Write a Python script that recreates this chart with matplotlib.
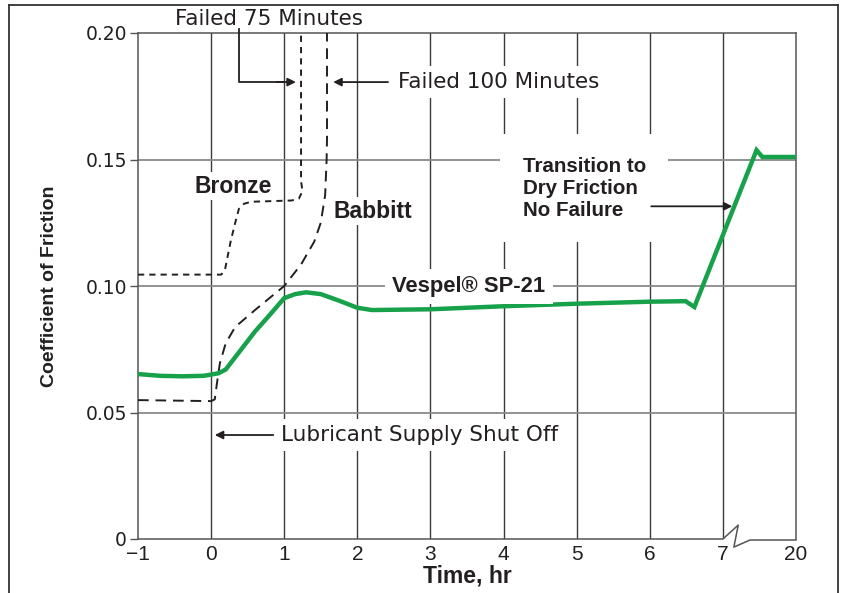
import numpy as np
import matplotlib.pyplot as plt
from matplotlib.lines import Line2D

# x positions: -1..7 are hours, the last slot (8) stands for 20 hr after the axis break
x_ticks = [-1, 0, 1, 2, 3, 4, 5, 6, 7, 8]
x_labels = ['\u22121', '0', '1', '2', '3', '4', '5', '6', '7', '20']
y_ticks = [0, 0.05, 0.10, 0.15, 0.20]
y_labels = ['0', '0.05', '0.10', '0.15', '0.20']

vespel_t = [-1, -0.7, -0.4, -0.1, 0.1, 0.2, 0.4, 0.6, 0.8, 1.0, 1.15, 1.3, 1.5, 1.75, 2.0, 2.2,
            3, 4, 5, 6, 6.49, 6.61, 7.46, 7.54, 8]
vespel_mu = [0.0652, 0.0645, 0.0643, 0.0645, 0.0655, 0.0670, 0.0745, 0.0820, 0.0885, 0.0952,
             0.0968, 0.0975, 0.0968, 0.0942, 0.0914, 0.0905, 0.0908, 0.0920, 0.0930, 0.0938,
             0.0940, 0.0917, 0.1537, 0.1510, 0.1510]

babbitt_t = [-1, 0, 0.05, 0.08, 0.12, 0.2, 0.33, 0.6, 1.0, 1.23, 1.41, 1.5, 1.56, 1.58, 1.585, 1.585]
babbitt_mu = [0.0549, 0.0545, 0.0552, 0.0616, 0.0695, 0.0774, 0.0838, 0.0905, 0.1000, 0.1085,
              0.1175, 0.1250, 0.1360, 0.1500, 0.1580, 0.2000]

bronze_t = [-1, 0.14, 0.19, 0.27, 0.33, 0.38, 0.45, 0.55, 1.1, 1.2, 1.25, 1.23, 1.23]
bronze_mu = [0.1045, 0.1045, 0.1065, 0.1180, 0.1250, 0.1305, 0.1325, 0.1333, 0.1338, 0.1345,
             0.1375, 0.1415, 0.2000]

green = '#17a14b'
ink = '#231f20'
lib = ['Liberation Sans', 'DejaVu Sans']

fig = plt.figure(figsize=(8.42, 5.93), dpi=100)
ax = fig.add_axes([138/842, 1-539/593, 658/842, 506/593])

ax.plot(bronze_t, bronze_mu, color=ink, lw=1.4, dashes=(3.2, 2.6), zorder=3)
ax.plot(babbitt_t, babbitt_mu, color=ink, lw=1.4, dashes=(5.5, 3.5), zorder=3)
ax.plot(vespel_t, vespel_mu, color=green, lw=3.2, zorder=4, solid_joinstyle='miter')

ax.set_xlim(-1, 8)
ax.set_ylim(0, 0.2)
ax.set_xticks(x_ticks)
ax.set_xticklabels(x_labels, family=lib, fontsize=15, color=ink)
ax.set_yticks(y_ticks)
ax.set_yticklabels(y_labels, family='DejaVu Sans', fontsize=13.5, color=ink)
ax.tick_params(axis='x', length=0, pad=4)
ax.tick_params(axis='y', length=6, width=1, color='#555', pad=2)

for xv in x_ticks[1:-1]:
    ax.axvline(xv, color='#3a3a3a', lw=1.0, zorder=1)
for yv in y_ticks[1:-1]:
    ax.axhline(yv, color='#8a8a8a', lw=1.3, zorder=1)

for s in ['left', 'top', 'right']:
    ax.spines[s].set_color('#555')
    ax.spines[s].set_linewidth(1.1)
ax.spines['bottom'].set_visible(False)

# bottom axis with break between 7 and 20
ax.plot([-1, 7, 7.21, 7.15, 7.37, 8], [0, 0, 0.0055, -0.0032, -0.0004, -0.0004],
        color='#555', lw=1.1, clip_on=False, zorder=5)

ax.set_xlabel('Time, hr', family=lib, fontweight='bold', fontsize=16.5, color=ink, labelpad=1)
ax.set_ylabel('Coefficient of Friction', family=lib, fontweight='bold', fontsize=14,
              color=ink, labelpad=20)

white = dict(facecolor='white', edgecolor='none', pad=2)
bold = dict(family=lib, fontweight='bold', color=ink, zorder=6)
reg = dict(family='DejaVu Sans', fontsize=15.5, color=ink, zorder=6)

ax.text(-0.23, 0.1395, 'Bronze', fontsize=16.5, va='center', ha='left', bbox=white, **bold)
ax.text(1.67, 0.1296, 'Babbitt', fontsize=16.5, va='center', ha='left', bbox=white, **bold)
ax.text(2.48, 0.0999, 'Vespel\u00ae SP-21', fontsize=15.8, va='center', ha='left',
        bbox=dict(facecolor='white', edgecolor='none', pad=5), **bold)
ax.text(4.26, 0.1387, 'Transition to\nDry Friction\nNo Failure', fontsize=14.8, va='center',
        ha='left', linespacing=1.2, bbox=dict(facecolor='white', edgecolor='none', pad=16), **bold)

ax.text(0.79, 0.2055, 'Failed 75 Minutes', ha='center', va='center', clip_on=False, **reg)
ax.text(2.55, 0.1806, 'Failed 100 Minutes', ha='left', va='center',
        bbox=dict(facecolor='white', edgecolor='none', pad=4), **reg)
ax.text(0.96, 0.0411, 'Lubricant Supply Shut Off', ha='left', va='center',
        bbox=dict(facecolor='white', edgecolor='none', pad=4), **reg)

arrow = dict(arrowstyle='-|>', color=ink, lw=1.3, mutation_scale=12, shrinkA=0, shrinkB=0)
ax.plot([0.38, 0.38, 1.0], [0.2015, 0.1806, 0.1806], color=ink, lw=1.3, clip_on=False, zorder=6)
ax.annotate('', xy=(1.16, 0.1806), xytext=(0.9, 0.1806), arrowprops=arrow, zorder=6)
ax.annotate('', xy=(1.67, 0.1806), xytext=(2.42, 0.1806), arrowprops=arrow, zorder=6)
ax.annotate('', xy=(0.05, 0.0411), xytext=(0.85, 0.0411), arrowprops=arrow, zorder=6)
ax.annotate('', xy=(7.13, 0.1315), xytext=(6.02, 0.1315), arrowprops=arrow, zorder=7)

# outer frame around the figure
for xs, ys in [([9/842, 9/842], [0, 1-5/593]), ([9/842, 838/842], [1-5/593, 1-5/593]),
               ([838/842, 838/842], [1-5/593, 0])]:
    fig.add_artist(Line2D(xs, ys, color='#333', lw=1.3))

fig.savefig('out.png', dpi=100)
